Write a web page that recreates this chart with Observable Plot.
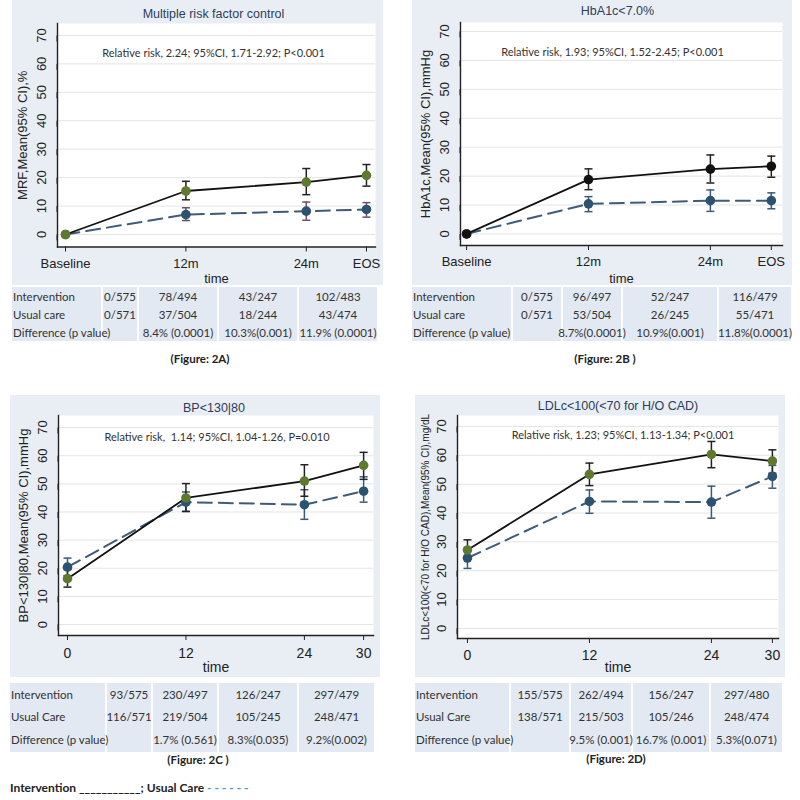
<!DOCTYPE html>
<html><head><meta charset="utf-8">
<script src="https://cdn.jsdelivr.net/npm/d3@7"></script>
<script src="https://cdn.jsdelivr.net/npm/@observablehq/plot@0.6"></script>
<style>
body{margin:0;background:#fff;}
#root{position:relative;width:800px;height:800px;overflow:hidden;font-family:Lato,"Open Sans",sans-serif;}
.panel{position:absolute;}
.bg{position:absolute;background:#e2e9f2;}
.cell{position:absolute;color:#333;font-size:11.5px;white-space:nowrap;display:flex;align-items:center;justify-content:center;}
.cell.lab{justify-content:flex-start;padding-left:1px;box-sizing:border-box;}
.cap{position:absolute;font-weight:bold;font-size:11.5px;color:#222;transform:translate(-50%,-50%);white-space:nowrap;}
.legend{position:absolute;left:10px;top:780px;font-weight:bold;font-size:12px;color:#222;white-space:nowrap;}
</style></head><body><div id="root"></div>
<script>
// ---------- data ----------
const timePoints = [0, 12, 24, 30];
const timeLabelsTop = ["Baseline", "12m", "24m", "EOS"];
const timeLabelsBottom = ["0", "12", "24", "30"];
const yTicks = [0, 10, 20, 30, 40, 50, 60, 70];

const mrfIntervention   = [0, 15.3, 18.4, 20.8];
const mrfInterventionLo = [null, 12.2, 14.0, 17.0];
const mrfInterventionHi = [null, 18.7, 23.2, 24.6];
const mrfUsual   = [0, 7.0, 8.2, 8.8];
const mrfUsualLo = [null, 4.9, 5.0, 6.1];
const mrfUsualHi = [null, 9.4, 11.4, 11.2];

const hbaIntervention   = [0, 18.8, 22.4, 23.4];
const hbaInterventionLo = [null, 15.3, 17.6, 19.6];
const hbaInterventionHi = [null, 22.5, 27.3, 26.9];
const hbaUsual   = [0, 10.4, 11.5, 11.5];
const hbaUsualLo = [null, 7.7, 7.8, 8.7];
const hbaUsualHi = [null, 12.9, 15.2, 14.2];

const bpIntervention   = [16.3, 45.0, 51.0, 56.6];
const bpInterventionLo = [13.3, 40.2, 45.6, 51.6];
const bpInterventionHi = [19.6, 50.1, 56.8, 61.2];
const bpUsual   = [20.4, 43.5, 42.6, 47.4];
const bpUsualLo = [17.4, 40.2, 37.4, 43.5];
const bpUsualHi = [23.6, 47.1, 47.9, 52.5];

const ldlIntervention   = [27.2, 53.4, 60.3, 58.0];
const ldlInterventionLo = [24.0, 49.5, 55.7, 53.8];
const ldlInterventionHi = [30.7, 57.3, 64.8, 61.9];
const ldlUsual   = [24.4, 44.0, 43.8, 52.7];
const ldlUsualLo = [20.8, 39.9, 38.2, 48.6];
const ldlUsualHi = [27.5, 48.0, 49.3, 56.5];

const rowLabelsTop = ["Intervention", "Usual care", "Difference (p value)"];
const rowLabelsBottom = ["Intervention", "Usual Care", "Difference (p value)"];
const mrfTabIntervention = ["0/575", "78/494", "43/247", "102/483"];
const mrfTabUsual = ["0/571", "37/504", "18/244", "43/474"];
const mrfTabDiff = ["", "8.4% (0.0001)", "10.3%(0.001)", "11.9% (0.0001)"];
const hbaTabIntervention = ["0/575", "96/497", "52/247", "116/479"];
const hbaTabUsual = ["0/571", "53/504", "26/245", "55/471"];
const hbaTabDiff = ["", "8.7%(0.0001)", "10.9%(0.001)", "11.8%(0.0001)"];
const bpTabIntervention = ["93/575", "230/497", "126/247", "297/479"];
const bpTabUsual = ["116/571", "219/504", "105/245", "248/471"];
const bpTabDiff = ["", "1.7% (0.561)", "8.3%(0.035)", "9.2%(0.002)"];
const ldlTabIntervention = ["155/575", "262/494", "156/247", "297/480"];
const ldlTabUsual = ["138/571", "215/503", "105/246", "248/474"];
const ldlTabDiff = ["", "9.5% (0.001)", "16.7% (0.001)", "5.3%(0.071)"];

// ---------- drawing ----------
const root = document.getElementById("root");
const PANEL_BG = "#e8eef3";
const AXFONT = "'Liberation Sans',Arial,sans-serif";
const capSym = {draw(ctx, size){ const r = Math.sqrt(size / Math.PI); ctx.moveTo(-r, 0); ctx.lineTo(r, 0); }};

function series(means, lo, hi) {
  return timePoints.map((t, i) => ({t, m: means[i], lo: lo[i], hi: hi[i]}));
}

function panel(c) {
  const ints = series(c.int, c.intLo, c.intHi);
  const usu = series(c.usu, c.usuLo, c.usuHi);
  const intCI = ints.filter(d => d.lo != null);
  const usuCI = usu.filter(d => d.lo != null);
  const chart = Plot.plot({
    width: c.w, height: c.h,
    marginLeft: c.ml, marginRight: c.mr, marginTop: c.mt, marginBottom: c.mb,
    style: {background: PANEL_BG, fontFamily: AXFONT, color: "#222", overflow: "visible"},
    x: {domain: c.xDomain},
    y: {domain: c.yDomain},
    marks: [
      Plot.frame({fill: "white", stroke: null}),
      Plot.gridY(yTicks, {stroke: "#e4e4e4", strokeOpacity: 1}),
      Plot.axisY(yTicks, {tickSize: 6, tickPadding: 10, rotate: -90, textAnchor: "middle", fontSize: 13, label: null, stroke: "#222"}),
      Plot.axisX(timePoints, {tickSize: 5, tickPadding: c.tp, fontSize: c.fs, label: null, tickFormat: (d) => c.labels[timePoints.indexOf(d)], stroke: "#222"}),
      Plot.frame({anchor: "left", stroke: "#222", strokeWidth: 1.4}),
      Plot.frame({anchor: "bottom", stroke: "#222", strokeWidth: 1.4}),
      Plot.line(usu, {x: "t", y: "m", stroke: "#3f5b77", strokeWidth: 2, strokeDasharray: "14,7"}),
      Plot.ruleX(usuCI, {x: "t", y1: "lo", y2: "hi", stroke: c.usuCI, strokeWidth: 1.5}),
      Plot.dot(usuCI, {x: "t", y: "lo", symbol: capSym, r: 4, stroke: c.usuCI, strokeWidth: 1.5}),
      Plot.dot(usuCI, {x: "t", y: "hi", symbol: capSym, r: 4, stroke: c.usuCI, strokeWidth: 1.5}),
      Plot.line(ints, {x: "t", y: "m", stroke: "#111", strokeWidth: 1.8}),
      Plot.ruleX(intCI, {x: "t", y1: "lo", y2: "hi", stroke: "#222", strokeWidth: 1.5}),
      Plot.dot(intCI, {x: "t", y: "lo", symbol: capSym, r: 4, stroke: "#222", strokeWidth: 1.5}),
      Plot.dot(intCI, {x: "t", y: "hi", symbol: capSym, r: 4, stroke: "#222", strokeWidth: 1.5}),
      Plot.dot(usu, {x: "t", y: "m", r: 4.8, fill: c.usuDot}),
      Plot.dot(ints, {x: "t", y: "m", r: 4.8, fill: c.intDot}),
      Plot.text([c.title], {frameAnchor: "top", dy: c.titleDy, dx: c.titleDx, fontSize: 12.5, fill: "#2e3d5c", lineAnchor: "middle"}),
      Plot.text([c.note], {frameAnchor: "top", dy: c.noteDy, dx: c.noteDx, fontSize: 11, fill: "#333", fontFamily: "Lato,'Open Sans',sans-serif", lineAnchor: "middle"}),
      Plot.text([c.ylabel], {frameAnchor: "left", dx: c.ylDx, rotate: -90, textAnchor: "middle", fontSize: c.ylFs, fill: "#222", lineAnchor: "middle"}),
      Plot.text(["time"], {frameAnchor: "bottom", dy: c.timeDy, fontSize: c.fs, fill: "#222", lineAnchor: "middle"})
    ]
  });
  chart.classList.add("panel");
  chart.style.left = c.left + "px";
  chart.style.top = c.top + "px";
  root.appendChild(chart);
}

function table(top, cols, heights, labels, rows) {
  // backgrounds first, then text so long labels may overflow
  let y = top;
  const texts = [];
  labels.forEach((lab, r) => {
    const vals = [lab, ...rows[r]];
    vals.forEach((v, j) => {
      const b = document.createElement("div");
      b.className = "bg";
      const x0 = cols[j] + (j === 0 ? 0 : 1);
      const w = cols[j + 1] - cols[j] - (j === 0 ? 1 : 2);
      b.style.left = x0 + "px"; b.style.width = w + "px";
      b.style.top = y + "px"; b.style.height = heights[r] + "px";
      root.appendChild(b);
      const d = document.createElement("div");
      d.className = "cell" + (j === 0 ? " lab" : "");
      d.style.left = x0 + "px"; d.style.width = w + "px";
      d.style.top = y + "px"; d.style.height = heights[r] + "px";
      d.textContent = v;
      texts.push(d);
    });
    y += heights[r];
  });
  texts.forEach(d => root.appendChild(d));
}

function caption(text, x, y) {
  const d = document.createElement("div");
  d.className = "cap"; d.style.left = x + "px"; d.style.top = y + "px";
  d.textContent = text; root.appendChild(d);
}

panel({left: 12, top: 0, w: 371, h: 285, ml: 45, mr: 8, mt: 23, mb: 38.5,
  xDomain: [-0.8, 30.9], yDomain: [-4.4, 74.2], labels: timeLabelsTop, fs: 13, tp: 7,
  int: mrfIntervention, intLo: mrfInterventionLo, intHi: mrfInterventionHi,
  usu: mrfUsual, usuLo: mrfUsualLo, usuHi: mrfUsualHi,
  intDot: "#5f7a2e", usuDot: "#2b5371", usuCI: "#6e4d66",
  title: "Multiple risk factor control", titleDy: -10, titleDx: -3,
  note: "Relative risk, 2.24; 95%CI, 1.71-2.92; P<0.001", noteDy: 30, noteDx: -3,
  ylabel: "MRF,Mean(95% CI),%", ylDx: -35, ylFs: 13, timeDy: 31.5});

panel({left: 412, top: 0, w: 380, h: 285, ml: 48, mr: 10, mt: 22, mb: 40,
  xDomain: [-0.6, 31.1], yDomain: [-4.0, 73.1], labels: timeLabelsTop, fs: 13, tp: 6,
  int: hbaIntervention, intLo: hbaInterventionLo, intHi: hbaInterventionHi,
  usu: hbaUsual, usuLo: hbaUsualLo, usuHi: hbaUsualHi,
  intDot: "#111", usuDot: "#2b5371", usuCI: "#3a5a78",
  title: "HbA1c<7.0%", titleDy: -12, titleDx: -4,
  note: "Relative risk, 1.93; 95%CI, 1.52-2.45; P<0.001", noteDy: 30, noteDx: -9,
  ylabel: "HbA1c,Mean(95% CI),mmHg", ylDx: -35, ylFs: 13, timeDy: 33});

panel({left: 10, top: 395, w: 370, h: 282, ml: 48, mr: 7, mt: 20, mb: 42,
  xDomain: [-0.91, 31.0], yDomain: [-3.9, 74.3], labels: timeLabelsBottom, fs: 14, tp: 8,
  int: bpIntervention, intLo: bpInterventionLo, intHi: bpInterventionHi,
  usu: bpUsual, usuLo: bpUsualLo, usuHi: bpUsualHi,
  intDot: "#5f7a2e", usuDot: "#2b5371", usuCI: "#3a5a78",
  title: "BP<130|80", titleDy: -8, titleDx: -2,
  note: "Relative risk,  1.14; 95%CI, 1.04-1.26, P=0.010", noteDy: 22, noteDx: 1,
  ylabel: "BP<130|80,Mean(95% CI),mmHg", ylDx: -35, ylFs: 13, timeDy: 32});

panel({left: 415, top: 395, w: 370, h: 282, ml: 42, mr: 7, mt: 20, mb: 39,
  xDomain: [-0.98, 30.6], yDomain: [-3.5, 73.8], labels: timeLabelsBottom, fs: 14, tp: 7,
  int: ldlIntervention, intLo: ldlInterventionLo, intHi: ldlInterventionHi,
  usu: ldlUsual, usuLo: ldlUsualLo, usuHi: ldlUsualHi,
  intDot: "#5f7a2e", usuDot: "#2b5371", usuCI: "#3a5a78",
  title: "LDLc<100(<70 for H/O CAD)", titleDy: -10, titleDx: 0,
  note: "Relative risk, 1.23; 95%CI, 1.13-1.34; P<0.001", noteDy: 20, noteDx: 5,
  ylabel: "LDLc<100(<70 for H/O CAD),Mean(95% CI),mg/dL", ylDx: -32, ylFs: 10, timeDy: 29});

table(287, [12, 102, 138, 218, 298, 378], [18, 18, 18], rowLabelsTop,
  [mrfTabIntervention, mrfTabUsual, mrfTabDiff]);
table(287, [412, 512, 562, 622, 718, 792], [18, 18, 18], rowLabelsTop,
  [hbaTabIntervention, hbaTabUsual, hbaTabDiff]);
table(683, [10, 106, 152, 218, 298, 375], [22, 22, 25], rowLabelsBottom,
  [bpTabIntervention, bpTabUsual, bpTabDiff]);
table(683, [415, 510, 570, 632, 710, 783], [22, 22, 25], rowLabelsBottom,
  [ldlTabIntervention, ldlTabUsual, ldlTabDiff]);

caption("(Figure: 2A)", 200, 358);
caption("(Figure: 2B )", 605, 358);
caption("(Figure: 2C )", 198, 759);
caption("(Figure: 2D)", 616, 758);

const lg = document.createElement("div");
lg.className = "legend";
lg.innerHTML = "Intervention ___________; Usual Care <span style='color:#4f8fc8'>- - - - - -</span>";
root.appendChild(lg);
</script></body></html>
